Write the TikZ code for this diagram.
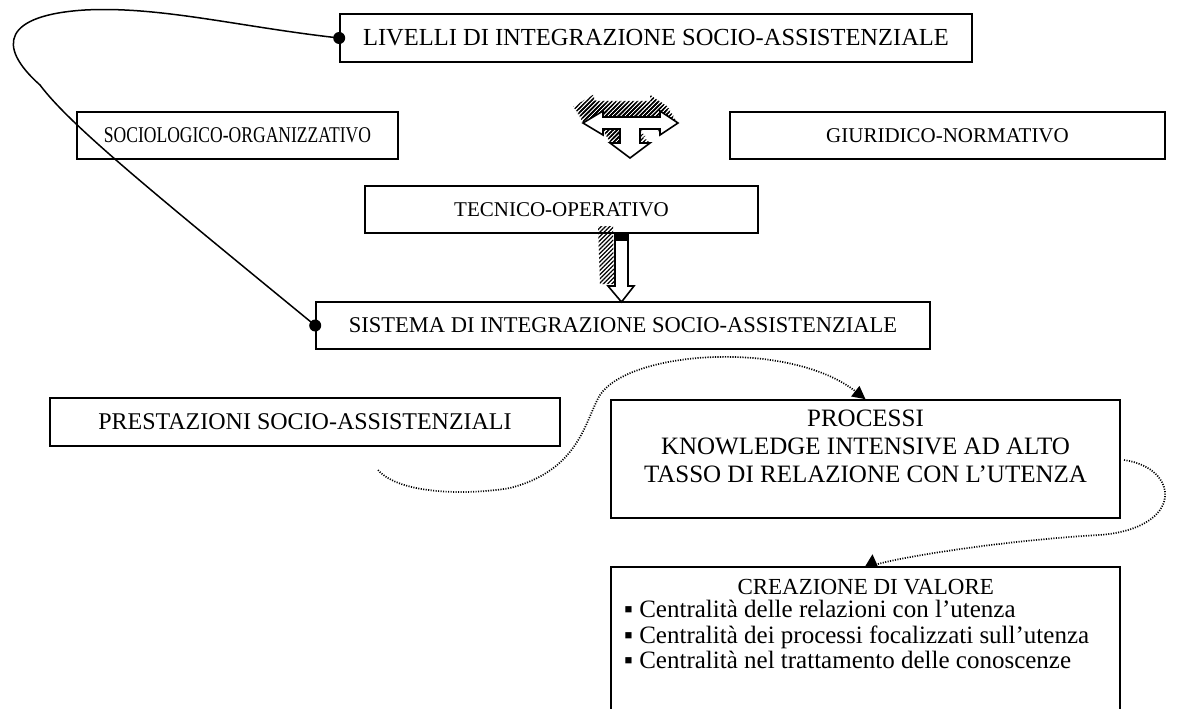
\documentclass[tikz,border=0pt]{standalone}
\usepackage{fontspec}
\setmainfont{Liberation Serif}
\usetikzlibrary{arrows.meta,patterns.meta,calc}
\begin{document}
\begin{tikzpicture}[x=1pt,y=-1pt,
  box/.style={draw=black,line width=1.6pt,fill=white,inner sep=0pt},
  fsz/.style={font=\fontsize{#1}{28}\selectfont},
  txt/.style={inner sep=0pt},
  dotconn/.style={line width=1.7pt,dash pattern=on 1.1pt off 1.4pt,-{Triangle[length=13pt,width=13pt]}},
  solidconn/.style={line width=1.5pt},
  enddot/.style={circle,fill=black,inner sep=0pt,minimum size=12pt},
  hatch/.style={pattern={Lines[angle=45,distance=3pt,line width=1.2pt]},pattern color=black},
  blockarrow/.style={draw=black,line width=1.6pt,fill=white,line join=miter}
]
\useasboundingbox (0,0) rectangle (1181,709);
\clip (0,0) rectangle (1181,709);

% boxes
\node[box,fsz=24.5,minimum width=632pt,minimum height=48pt] (liv) at (656,38) {LIVELLI DI INTEGRAZIONE SOCIO-ASSISTENZIALE};
\node[box,font=\fontsize{22.5}{25}\selectfont\addfontfeatures{FakeStretch=0.78},minimum width=321pt,minimum height=47pt] (soc) at (237.5,135.5) {SOCIOLOGICO-ORGANIZZATIVO};
\node[box,fsz=21,minimum width=435pt,minimum height=47pt] (giu) at (947.5,135.5) {GIURIDICO-NORMATIVO};
\node[box,fsz=21,minimum width=393pt,minimum height=47pt] (tec) at (561.5,209.5) {TECNICO-OPERATIVO};
\node[box,fsz=22.5,minimum width=614pt,minimum height=47pt] (sis) at (623,325.5) {SISTEMA DI INTEGRAZIONE SOCIO-ASSISTENZIALE};
\node[box,fsz=24,minimum width=510pt,minimum height=48pt] (pre) at (305,422) {PRESTAZIONI SOCIO-ASSISTENZIALI};
\node[box,minimum width=509pt,minimum height=118pt] (pro) at (865.5,459) {};
\node[txt,fsz=25,anchor=north,align=center] (protxt) at (865.5,410) {PROCESSI\\KNOWLEDGE INTENSIVE AD ALTO\\TASSO DI RELAZIONE CON L’UTENZA};
\node[box,minimum width=509pt,minimum height=153pt] (cre) at (865.5,643.5) {};
\node[txt,font=\fontsize{25}{25.5}\selectfont,anchor=north west,align=left] (cretxt) at (624,579)
  {\makebox[483pt][c]{\fontsize{23}{25}\selectfont CREAZIONE DI VALORE}\\[-2pt]
   ▪ Centralità delle relazioni con l’utenza\\
   ▪ Centralità dei processi focalizzati sull’utenza\\
   ▪ Centralità nel trattamento delle conoscenze};

% T-shaped block arrow with hatched extrusion
\foreach \s in {0,0.1,...,1.0}{
  \fill[hatch,shift={(-11*\s,-18*\s)}] (583,123) -- (603,111) -- (603,117) -- (660,117) -- (660,111) -- (678,123) -- (660,135) -- (660,129) -- (640,129) -- (640,143) -- (650,143) -- (630,158) -- (610,143) -- (620,143) -- (620,129) -- (603,129) -- (603,135) -- cycle;
}
\draw[blockarrow] (583,123) -- (603,111) -- (603,117) -- (660,117) -- (660,111) -- (678,123) -- (660,135) -- (660,129) -- (640,129) -- (640,143) -- (650,143) -- (630,158) -- (610,143) -- (620,143) -- (620,129) -- (603,129) -- (603,135) -- cycle;

% vertical block arrow with hatched band
\fill[hatch] (598,226) -- (613,226) -- (614,284) -- (600,284) -- cycle;
\draw[blockarrow] (615,235) -- (628,235) -- (628,286) -- (634,286) -- (621.5,302) -- (608,286) -- (615,286) -- cycle;
\fill[black] (615,234) rectangle (628,241);

% solid loop connector
\draw[solidconn] (liv.west) .. controls (240,27) and (160,6) .. (85,10) .. controls (5,15) and (-5,45) .. (40,85) .. controls (70,125) and (150,190) .. (sis.west);
\node[enddot] (d1) at (liv.west) {};
\node[enddot] (d2) at (sis.west) {};

% dotted connectors
\coordinate (c1s) at (378,470);
\draw[dotconn] (c1s) .. controls (400,495) and (470,495) .. (510,488) .. controls (580,470) and (585,420) .. (600,395) .. controls (630,350) and (790,340) .. (pro.north);
\coordinate (c2s) at (1124,460);
\coordinate (c2e) at ($(cre.north)+(7,-12)$);
\draw[dotconn] (c2s) .. controls (1180,468) and (1185,528) .. (1100,535) .. controls (990,541) and (872,562) .. (c2e);
\end{tikzpicture}
\end{document}
